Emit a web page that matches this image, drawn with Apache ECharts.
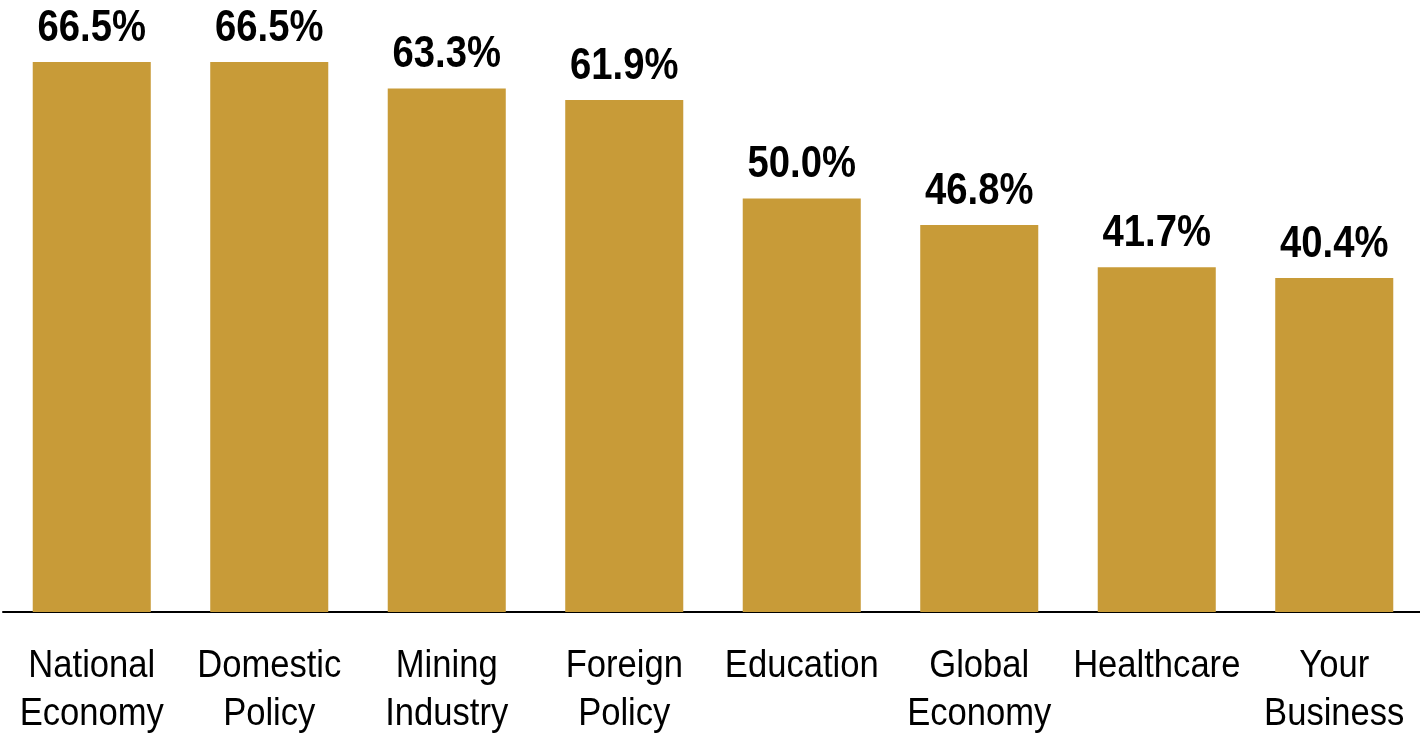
<!DOCTYPE html>
<html>
<head>
<meta charset="utf-8">
<script src="https://cdn.jsdelivr.net/npm/echarts@6/dist/echarts.min.js"></script>
<style>
  html, body { margin: 0; padding: 0; background: #fff; }
  #chart { width: 1420px; height: 736px; }
</style>
</head>
<body>
<div id="chart"></div>
<script>
// topics and share of respondents (%)
const topics = ['National\nEconomy', 'Domestic\nPolicy', 'Mining\nIndustry', 'Foreign\nPolicy', 'Education', 'Global\nEconomy', 'Healthcare', 'Your\nBusiness'];
const shares = [66.5, 66.5, 63.3, 61.9, 50.0, 46.8, 41.7, 40.4];

// the original uses a narrow Arial; squeeze Liberation Sans to get close
const baseFont = '"Liberation Sans", Arial, sans-serif';

const myChart = echarts.init(document.getElementById('chart'));

const option = {
  animation: false,
  grid: {
    left: 3,
    right: -3,
    top: 0,
    bottom: 124,
    outerBoundsMode: 'none'
  },
  xAxis: {
    type: 'category',
    data: topics,
    axisTick: { show: false },
    axisLine: {
      lineStyle: { color: '#000', width: 2 }
    },
    axisLabel: { show: false }
  },
  yAxis: {
    type: 'value',
    min: 0,
    max: 74,
    show: false,
    splitLine: { show: false }
  },
  series: [
    {
      type: 'bar',
      data: shares,
      barWidth: '66.5%',
      itemStyle: { color: '#C89B38' },
      silent: true
    },
    {
      // value labels above the bars
      type: 'custom',
      silent: true,
      data: shares.map((v, i) => [i, v]),
      encode: { x: 0, y: 1 },
      renderItem: (params, api) => {
        const pt = api.coord([api.value(0), api.value(1)]);
        return {
          type: 'text',
          x: pt[0],
          y: pt[1] - 11,
          scaleX: 0.85,
          style: {
            text: api.value(1).toFixed(1) + '%',
            x: 0,
            y: 0,
            align: 'center',
            verticalAlign: 'bottom',
            font: 'bold 45px ' + baseFont,
            fill: '#000'
          }
        };
      }
    },
    {
      // category labels under the axis
      type: 'custom',
      silent: true,
      data: topics.map((t, i) => [i, 0]),
      encode: { x: 0, y: 1 },
      renderItem: (params, api) => {
        const pt = api.coord([api.value(0), 0]);
        return {
          type: 'text',
          x: pt[0],
          y: pt[1] + 31,
          scaleX: 0.91,
          style: {
            text: topics[params.dataIndex],
            x: 0,
            y: 0,
            align: 'center',
            verticalAlign: 'top',
            font: '38px ' + baseFont,
            lineHeight: 48,
            fill: '#000'
          }
        };
      }
    }
  ]
};

myChart.setOption(option);
</script>
</body>
</html>
